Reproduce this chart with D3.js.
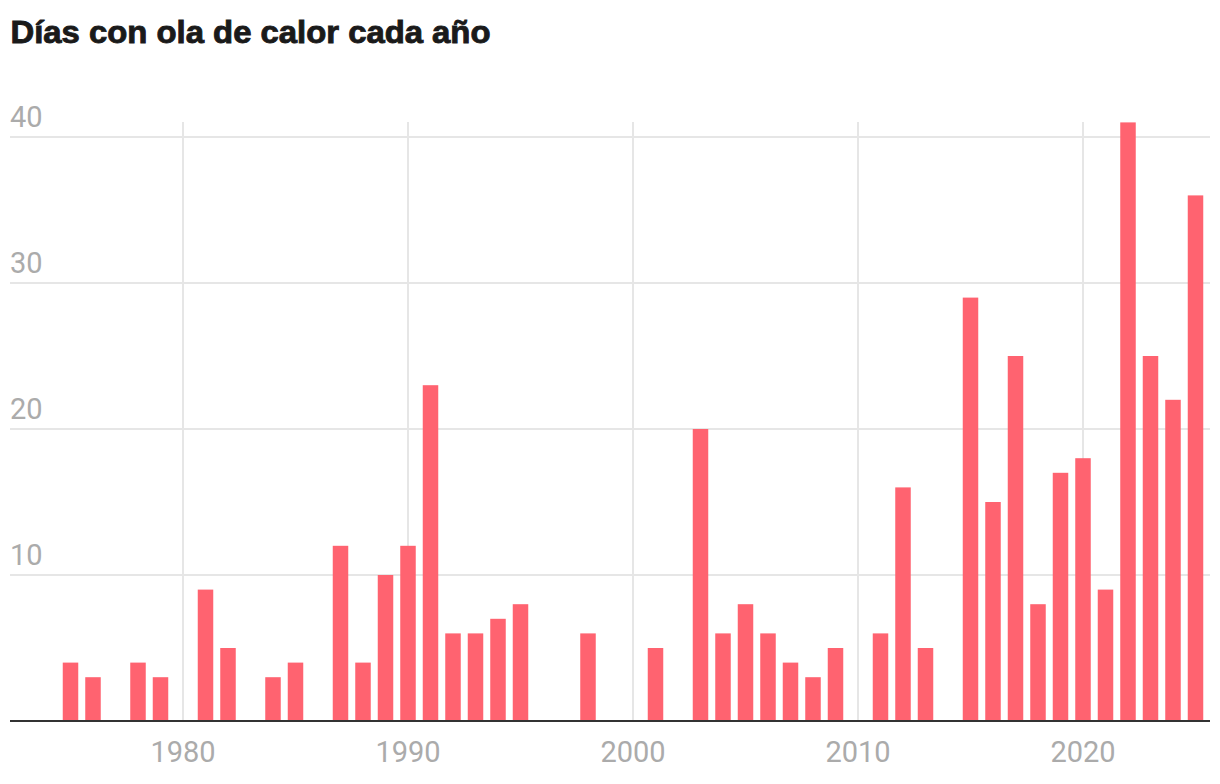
<!DOCTYPE html>
<html lang="es">
<meta charset="utf-8">
<style>
body { margin: 0; background: #fff; }
.title { font-family: "Liberation Sans", Arial, sans-serif; font-weight: bold; fill: #1a1a1a; stroke: #1a1a1a; stroke-width: 0.9px; }
.tick-label { font-family: Roboto, "Liberation Sans", sans-serif; font-weight: 400; fill: #ababab; }
</style>
<body>
<script src="https://d3js.org/d3.v7.min.js"></script>
<div id="chart"></div>
<script>
// datos: días con ola de calor por año
var years = d3.range(1975, 2026);
var days = [
  4, 3, 0, 4, 3, 0, 9, 5, 0, 3,
  4, 0, 12, 4, 10, 12, 23, 6, 6, 7,
  8, 0, 0, 6, 0, 0, 5, 0, 20, 6,
  8, 6, 4, 3, 5, 0, 6, 16, 5, 0,
  29, 15, 25, 8, 17, 18, 9, 41, 25, 22,
  36
];
var yTicks = [10, 20, 30, 40];
var xTicks = [1980, 1990, 2000, 2010, 2020];

var width = 1220, height = 784;
var left = 10, right = 1210, bottom = 721;

var data = years.map(function(y, i) { return {year: y, value: days[i]}; });

var x = d3.scaleLinear().domain([1975, 2025]).range([70.5, 1195.5]);
var y = d3.scaleLinear().domain([0, 40]).range([bottom, 137]);
var barW = 15.5;

var svg = d3.select("#chart").append("svg")
    .attr("width", width)
    .attr("height", height);

svg.append("text")
    .attr("class", "title")
    .attr("x", 10.5)
    .attr("y", 43)
    .style("font-size", "31px")
    .attr("textLength", 480)
    .attr("lengthAdjust", "spacingAndGlyphs")
    .text("Días con ola de calor cada año");

// horizontal grid
svg.append("g").selectAll("line")
    .data(yTicks)
  .enter().append("line")
    .attr("x1", left).attr("x2", right)
    .attr("y1", function(d) { return y(d); })
    .attr("y2", function(d) { return y(d); })
    .style("stroke", "#e6e6e6")
    .style("stroke-width", 2);

// vertical grid
svg.append("g").selectAll("line")
    .data(xTicks)
  .enter().append("line")
    .attr("x1", function(d) { return x(d); })
    .attr("x2", function(d) { return x(d); })
    .attr("y1", 122).attr("y2", bottom)
    .style("stroke", "#e6e6e6")
    .style("stroke-width", 2);

svg.append("g").selectAll("text")
    .data(yTicks)
  .enter().append("text")
    .attr("class", "tick-label")
    .attr("x", 10)
    .attr("y", function(d) { return y(d) - 10; })
    .style("font-size", "29px")
    .text(function(d) { return d; });

svg.append("g").selectAll("rect")
    .data(data.filter(function(d) { return d.value > 0; }))
  .enter().append("rect")
    .attr("x", function(d) { return x(d.year) - barW / 2; })
    .attr("width", barW)
    .attr("y", function(d) { return y(d.value); })
    .attr("height", function(d) { return bottom - y(d.value); })
    .style("fill", "#ff6370");

svg.append("line")
    .attr("x1", left).attr("x2", right)
    .attr("y1", bottom).attr("y2", bottom)
    .style("stroke", "#333")
    .style("stroke-width", 2);

svg.append("g").selectAll("text")
    .data(xTicks)
  .enter().append("text")
    .attr("class", "tick-label")
    .attr("x", function(d) { return x(d); })
    .attr("y", 762)
    .attr("text-anchor", "middle")
    .style("font-size", "29px")
    .text(function(d) { return d; });
</script>
</body>
</html>
